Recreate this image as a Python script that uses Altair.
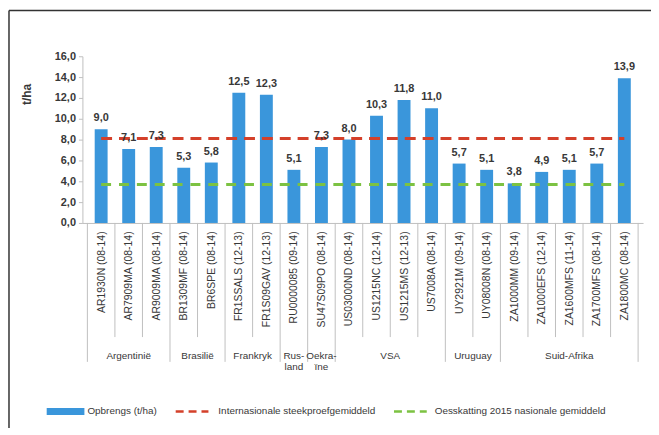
import json
import altair as alt
import pandas as pd

# ---------------- data ----------------
categories = [
    "AR1930N (08-14)", "AR7909MA (08-14)", "AR9009MA (08-14)",
    "BR1309MF (08-14)", "BR6SPE (08-14)",
    "FR1SSALS (12-13)", "FR1S09GAV (12-13)",
    "RU0000085 (09-14)",
    "SU47S09PO (08-14)",
    "US03000ND (08-14)", "US1215NC (12-14)", "US1215MS (12-13)", "US7008A (08-14)",
    "UY2921M (09-14)", "UY08008N (08-14)",
    "ZA1000MM (09-14)", "ZA1000EFS (12-14)", "ZA1600MFS (11-14)", "ZA1700MFS (08-14)", "ZA1800MC (08-14)",
]
values = [9.0, 7.1, 7.3, 5.3, 5.8, 12.5, 12.3, 5.1, 7.3, 8.0,
          10.3, 11.8, 11.0, 5.7, 5.1, 3.8, 4.9, 5.1, 5.7, 13.9]
groups = ["Argentinië", "Brasilië", "Frankryk", "Rus-\nland", "Oekra-\nïne",
          "VSA", "Uruguay", "Suid-Afrika"]
group_sizes = [3, 2, 2, 1, 1, 4, 2, 5]
intl_avg = 8.1
national_2015 = 3.7
y_ticks = [0, 2, 4, 6, 8, 10, 12, 14, 16]
legend_labels = ["Opbrengs (t/ha)", "Internasionale steekproefgemiddeld",
                 "Oesskatting 2015 nasionale gemiddeld"]

# ---------------- tables ----------------
n = len(categories)
df = pd.DataFrame({
    "idx": list(range(n)),
    "cat": categories,
    "value": values,
    "txt": [f"{v:.1f}".replace(".", ",") for v in values],
})

centers, group_edges = [], [-0.5]
start = 0
for s in group_sizes:
    centers.append(start + (s - 1) / 2)
    start += s
    group_edges.append(start - 0.5)
gdf = pd.DataFrame({"g": groups, "c": centers})
inner_edges = [i + 0.5 for i in range(n - 1) if (i + 0.5) not in group_edges]
inner_df = pd.DataFrame({"e": inner_edges})
outer_df = pd.DataFrame({"e": group_edges})
ref_df = pd.DataFrame({
    "x0": [0, 0], "x1": [n - 1, n - 1],
    "v": [intl_avg, national_2015], "k": ["intl", "nat"],
})

W, H = 565, 168
FONT = "Liberation Sans"
GRAY = "#383838"
LINE = "#bfbfbf"
BLUE = "#3a96db"
RED = "#d4402a"
GREEN = "#7cc242"

xscale = alt.Scale(domain=[-0.5, n - 0.5], nice=False, zero=False)
yscale = alt.Scale(domain=[0, 16], nice=False)

label_expr = json.dumps(categories, ensure_ascii=False) + "[datum.value]"

x_axis = alt.Axis(
    values=list(range(n)), labelExpr=label_expr, labelAngle=-90,
    ticks=False, grid=False, domainColor=LINE, labelFont=FONT,
    labelFontSize=10.5, labelColor=GRAY, labelPadding=8,
    labelOverlap=False, labelFlush=False, labelBound=False, title=None)
y_axis = alt.Axis(
    values=y_ticks,
    labelExpr="replace(format(datum.value, '.1f'), '.', ',')",
    grid=False, tickSize=4, tickColor=LINE, domainColor=LINE,
    labelFont=FONT, labelFontSize=11, labelFontWeight="bold",
    labelColor=GRAY, labelPadding=3, labelOverlap=False, labelFlush=False,
    title="t/ha", titleFont=FONT, titleFontSize=12, titleFontWeight="bold",
    titleColor=GRAY, titleX=-56, titleY=38, titleAlign="center",
    titleBaseline="middle")

NX = lambda f: alt.X(f, scale=xscale, axis=x_axis)
NY = lambda f: alt.Y(f, scale=yscale, axis=y_axis)

bars = alt.Chart(df).mark_bar(size=13, color=BLUE).encode(
    x=NX("idx:Q"), y=NY("value:Q"))

bar_text = alt.Chart(df).mark_text(
    font=FONT, fontSize=11, fontWeight="bold", color=GRAY,
    baseline="alphabetic", dy=-8).encode(
    x=NX("idx:Q"), y=NY("value:Q"), text="txt:N")

red_line = alt.Chart(ref_df[ref_df.k == "intl"]).mark_rule(
    color=RED, strokeWidth=3, strokeDash=[11, 7]).encode(
    x=NX("x0:Q"), x2="x1:Q", y=NY("v:Q"))
green_line = alt.Chart(ref_df[ref_df.k == "nat"]).mark_rule(
    color=GREEN, strokeWidth=3, strokeDash=[10, 8]).encode(
    x=NX("x0:Q"), x2="x1:Q", y=NY("v:Q"))

inner_sep = alt.Chart(inner_df).mark_rule(color=LINE, strokeWidth=1).encode(
    x=NX("e:Q"), y=alt.value(H), y2=alt.value(H + 115))
outer_sep = alt.Chart(outer_df).mark_rule(color=LINE, strokeWidth=1).encode(
    x=NX("e:Q"), y=alt.value(H), y2=alt.value(H + 140))

group_text = alt.Chart(gdf).mark_text(
    font=FONT, fontSize=10, color=GRAY, baseline="middle", lineBreak="\n",
    lineHeight=11).encode(
    x=NX("c:Q"), y=alt.value(H + 134), text="g:N")

# frame (top and left edges)
one = pd.DataFrame({"a": [0]})
frame_top = alt.Chart(one).mark_rule(color="#333333", strokeWidth=1.5).encode(
    x=alt.value(-74), x2=alt.value(W + 20), y=alt.value(-46))
frame_left = alt.Chart(one).mark_rule(color="#333333", strokeWidth=1.5).encode(
    x=alt.value(-74), y=alt.value(-46), y2=alt.value(H + 220))

# manual legend
LY = 358
leg_blue = alt.Chart(one).mark_rect(color=BLUE).encode(
    x=alt.value(-36), x2=alt.value(2), y=alt.value(LY - 3.5), y2=alt.value(LY + 3.5))
leg_red = alt.Chart(one).mark_rule(color=RED, strokeWidth=2.5, strokeDash=[8, 5]).encode(
    x=alt.value(94), x2=alt.value(127), y=alt.value(LY))
leg_green = alt.Chart(one).mark_rule(color=GREEN, strokeWidth=2.5, strokeDash=[8, 5]).encode(
    x=alt.value(314), x2=alt.value(347), y=alt.value(LY))
leg_t1 = alt.Chart(one).mark_text(font=FONT, fontSize=10, color=GRAY, align="left",
                                   baseline="middle", text=legend_labels[0]).encode(
    x=alt.value(5), y=alt.value(LY))
leg_t2 = alt.Chart(one).mark_text(font=FONT, fontSize=10, color=GRAY, align="left",
                                   baseline="middle", text=legend_labels[1]).encode(
    x=alt.value(137), y=alt.value(LY))
leg_t3 = alt.Chart(one).mark_text(font=FONT, fontSize=10, color=GRAY, align="left",
                                   baseline="middle", text=legend_labels[2]).encode(
    x=alt.value(355), y=alt.value(LY))

chart = alt.layer(
    inner_sep, outer_sep, bars, green_line, red_line, bar_text, group_text,
    frame_top, frame_left, leg_blue, leg_red, leg_green, leg_t1, leg_t2, leg_t3,
).properties(
    width=W, height=H,
    autosize=alt.AutoSizeParams(type="none"),
    padding={"left": 75, "top": 47, "right": 8, "bottom": 205},
).configure_view(stroke=None).configure_axis(labelOverlap=False)

chart.save("out.html", embed_options={"renderer": "svg", "actions": False})
